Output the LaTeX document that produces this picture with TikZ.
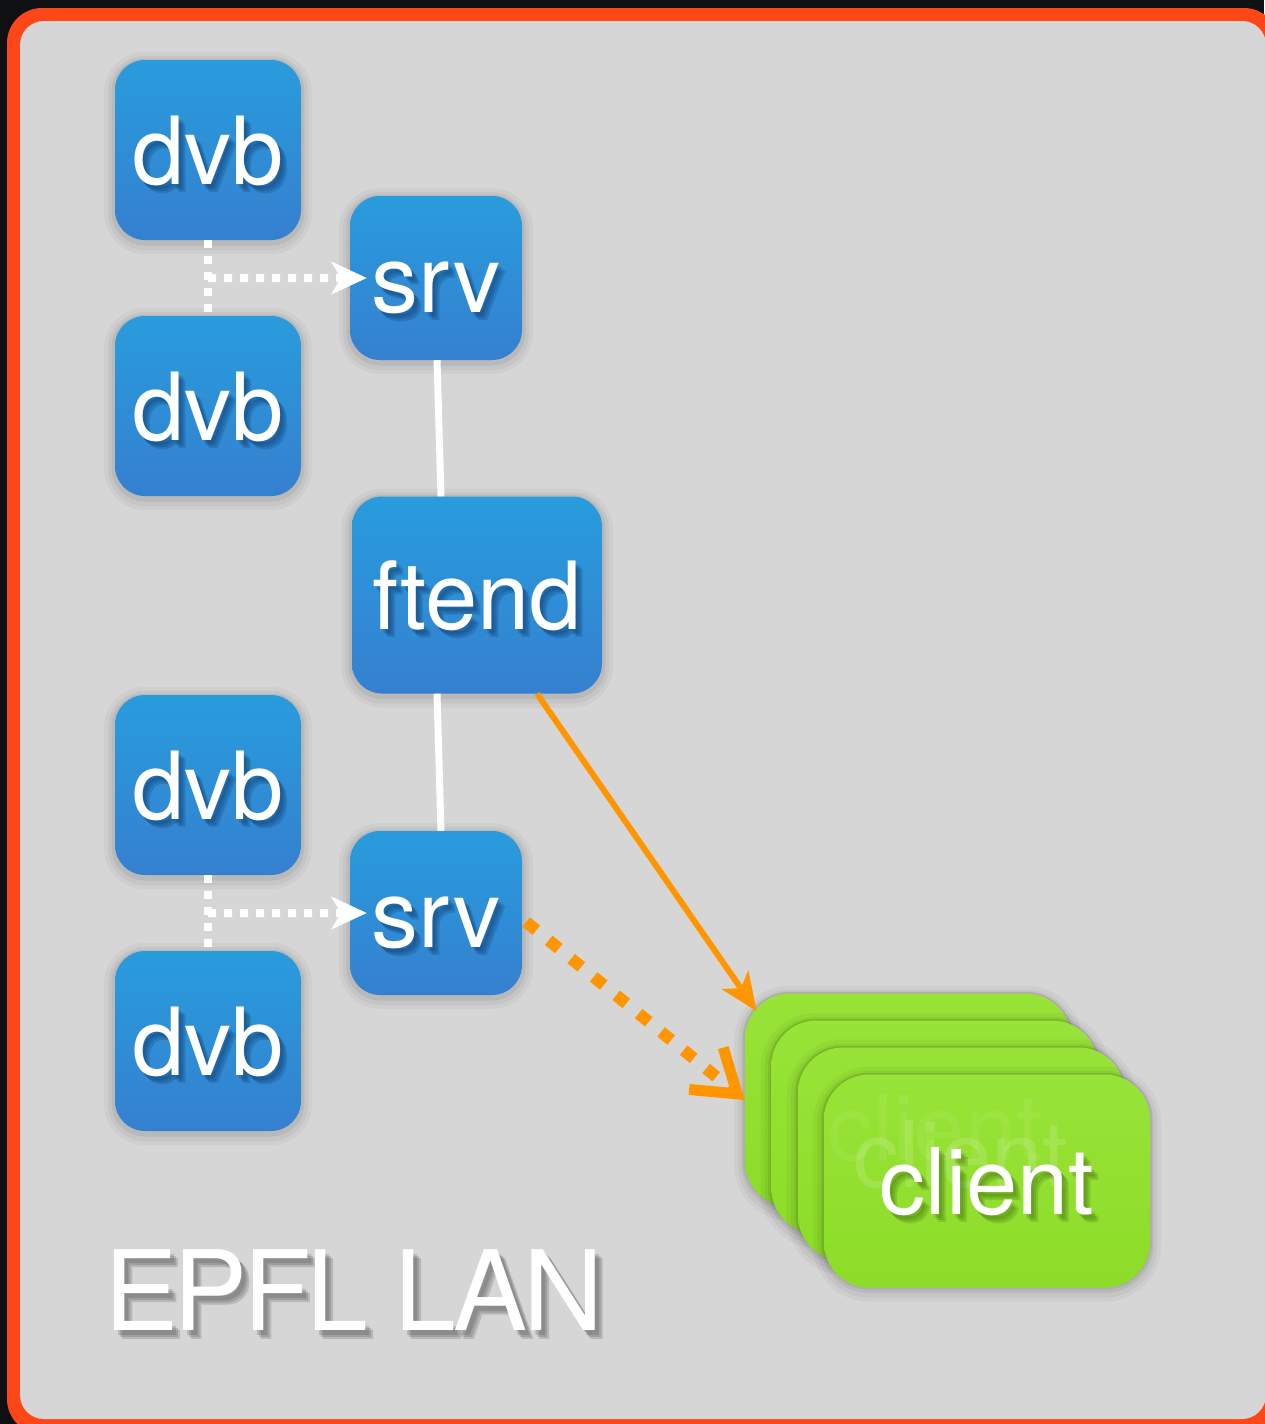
\documentclass[tikz,border=0pt]{standalone}
\usepackage{fontspec}
\setmainfont{TeX Gyre Heros}
\usetikzlibrary{arrows.meta,calc}

\definecolor{backdrop}{HTML}{0F1012}
\definecolor{frame}{HTML}{FE4716}
\definecolor{panel}{HTML}{D6D6D6}
\definecolor{boxtop}{HTML}{289CDC}
\definecolor{boxbot}{HTML}{3580CF}
\definecolor{cardtop}{HTML}{98E338}
\definecolor{cardbot}{HTML}{8DDC28}
\definecolor{flow}{HTML}{FF9600}
\definecolor{bluesh}{HTML}{0A2F5E}
\definecolor{greensh}{HTML}{3B660A}
\definecolor{graysh}{HTML}{404040}

% white label with a soft drop shadow built from offset copies
\newcommand\shadowlabel[5]{% name, anchor node, text, shadow colour, style
  \foreach \d in {3,5,7}{%
    \node[#5, text=#4, text opacity=0.2] (#1sh\d) at ($(#2)+(\d,\d+1)$) {#3};}
  \node[#5] (#1) at (#2) {#3};}

\begin{document}
\begin{tikzpicture}[x=1pt, y=-1pt,
  % soft halo: stacked translucent strokes around the outline, drawn under the fill
  halo/.style={
    preaction={draw=black, draw opacity=0.035, line width=22pt, transform canvas={yshift=-3pt}},
    preaction={draw=black, draw opacity=0.045, line width=14pt, transform canvas={yshift=-3pt}},
    preaction={draw=black, draw opacity=0.06, line width=7pt, transform canvas={yshift=-2pt}}},
  tile/.style={rounded corners=30pt, inner sep=0pt, halo, top color=boxtop, bottom color=boxbot},
  card/.style={rounded corners=45pt, inner sep=0pt, minimum width=326pt, minimum height=213pt,
    halo, preaction={draw=black, draw opacity=0.06, line width=4pt},
    top color=cardtop, bottom color=cardbot},
  lbl/.style={text=white, inner sep=0pt, font=\fontsize{94pt}{94pt}\selectfont,
    text height=68pt, text depth=0pt},
  clbl/.style={text=white, inner sep=0pt, font=\fontsize{92pt}{92pt}\selectfont,
    text height=66pt, text depth=0pt},
  lanlbl/.style={anchor=base west, inner sep=0pt,
    font=\fontsize{111pt}{111pt}\selectfont\addfontfeature{LetterSpace=-4}},
  dotline/.style={white, line width=8pt, dash pattern=on 8pt off 8pt},
  link/.style={white, line width=7pt},
  flowline/.style={flow, line width=6pt},
  flowdots/.style={flow, line width=12pt, dash pattern=on 13pt off 16pt}]

\useasboundingbox (0,0) rectangle (1264,1424);

% backdrop, frame and panel
\fill[backdrop] (0,0) rectangle (1264,1424);
\fill[frame, rounded corners=35pt] (7,8) rectangle (1279,1434);
\fill[panel, rounded corners=24pt] (20,21) rectangle (1266,1419);

% blue tiles
\node[tile, minimum width=186pt, minimum height=180pt] (dvb1) at (208,150) {};
\node[tile, minimum width=186pt, minimum height=180pt] (dvb2) at (208,406) {};
\node[tile, minimum width=172pt, minimum height=164pt] (srv1) at (436,278) {};
\node[tile, minimum width=250pt, minimum height=197pt] (ftend) at (477,595) {};
\node[tile, minimum width=186pt, minimum height=180pt] (dvb3) at (208,785) {};
\node[tile, minimum width=186pt, minimum height=180pt] (dvb4) at (208,1041) {};
\node[tile, minimum width=172pt, minimum height=164pt] (srv2) at (436,913) {};

% stack of client cards
\node[card] (card1) at (908,1100) {};
\node[card] (card2) at (934.5,1127) {};
\node[card] (card3) at (961,1154) {};
\node[card] (card4) at (987,1181) {};

% links between tiles
\draw[dotline] (dvb1.south) -- (dvb2.north);
\draw[dotline, -{Stealth[length=35pt, width=32pt, inset=9pt]}]
  ($(dvb1.south)!0.5!(dvb2.north)$) -- ($(srv1.west)+(17,0)$);
\draw[dotline] (dvb3.south) -- (dvb4.north);
\draw[dotline, -{Stealth[length=35pt, width=32pt, inset=9pt]}]
  ($(dvb3.south)!0.5!(dvb4.north)$) -- ($(srv2.west)+(17,0)$);
\draw[link] ($(srv1.south)+(1,0)$) -- ($(ftend.north)+(-36,0)$);
\draw[link] ($(ftend.south)+(-40,0)$) -- ($(srv2.north)+(5,0)$);

% streams to the clients
\draw[flowline, -{Stealth[length=38pt, width=32pt, inset=10pt]}]
  ($(ftend.south)+(60,0)$) -- ($(card1.north west)+(12,18)$);
\draw[flowdots, -{Straight Barb[length=40pt, width=54pt, line width=11pt]}]
  ($(srv2.east)+(4,9)$) -- (card1.west);

% labels
\shadowlabel{dvb1t}{dvb1}{dvb}{bluesh}{lbl}
\shadowlabel{dvb2t}{dvb2}{dvb}{bluesh}{lbl}
\shadowlabel{srv1t}{srv1}{srv}{bluesh}{lbl}
\shadowlabel{ftendt}{ftend}{ftend}{bluesh}{lbl}
\shadowlabel{dvb3t}{dvb3}{dvb}{bluesh}{lbl}
\shadowlabel{dvb4t}{dvb4}{dvb}{bluesh}{lbl}
\shadowlabel{srv2t}{srv2}{srv}{bluesh}{lbl}

% labels of the cards further back, showing through faintly
\node[clbl, text opacity=0.07] (card2t) at (card2) {client};
\node[clbl, text opacity=0.14] (card3t) at (card3) {client};
\shadowlabel{card4t}{card4}{client}{greensh}{clbl}

% network name
\foreach \d in {4,6,8}{%
  \node[lanlbl, text=graysh, text opacity=0.2] (lansh\d) at ($(104,1330)+(\d,\d+1)$) {EPFL LAN};}
\node[lanlbl, text=white] (lan) at (104,1330) {EPFL LAN};

\end{tikzpicture}
\end{document}
